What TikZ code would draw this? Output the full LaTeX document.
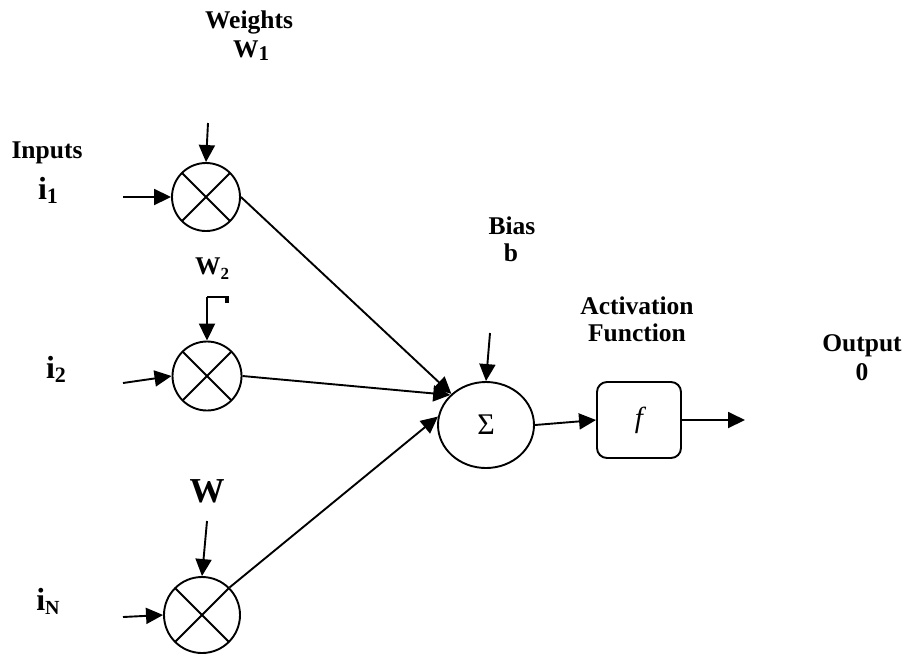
\documentclass[tikz,border=0pt]{standalone}
\usepackage{fontspec}
\setmainfont{Liberation Serif}
\usetikzlibrary{arrows.meta,shapes.geometric}
\begin{document}
\begin{tikzpicture}[x=1pt,y=-1pt,
  wire/.style={line width=1.9pt},
  arr/.style={wire,-{Triangle[length=17pt,width=16pt]}},
  mult/.style={circle,draw,line width=1.9pt,inner sep=0pt,minimum size=#1,
    path picture={\draw[line width=1.9pt]
      (path picture bounding box.north west)--(path picture bounding box.south east)
      (path picture bounding box.north east)--(path picture bounding box.south west);}},
  lbl/.style={font=\fontsize{25.5}{28}\selectfont\bfseries,inner sep=0pt},
  big/.style={font=\fontsize{32}{32}\selectfont\bfseries,inner sep=0pt},
]
\useasboundingbox (0,0) rectangle (904,657);

% multipliers, summing junction and activation block
\node[mult=68] (m1) at (206,197) {};
\node[mult=69] (m2) at (207,376) {};
\node[mult=76] (m3) at (202,615) {};
\node[ellipse,draw,line width=1.9pt,minimum width=96pt,minimum height=86pt,inner sep=0pt]
  (sum) at (486,425) {\fontsize{30}{30}\selectfont Σ};
\node[draw,rounded corners=10pt,line width=1.9pt,minimum width=84pt,minimum height=76pt]
  (act) at (639,420) {\fontsize{29}{29}\selectfont\itshape f};

% labels
\node[lbl] (wts) at (249,22) {Weights};
\node[lbl] (w1) at (251,51) {W\raisebox{-3pt}{\fontsize{21}{21}\selectfont 1}};
\node[lbl] (inp) at (47,153) {Inputs};
\node[big] (i1) at (48,190) {i\raisebox{-4pt}{\fontsize{22}{22}\selectfont 1}};
\node[lbl] (w2) at (212,269) {W\raisebox{-5pt}{\fontsize{17}{17}\selectfont 2}};
\node[big] (i2) at (56,369) {i\raisebox{-4pt}{\fontsize{22}{22}\selectfont 2}};
\node[font=\fontsize{35}{35}\selectfont\bfseries,inner sep=0pt] (w3) at (207,491) {W};
\node[big] (iN) at (48,601) {i\raisebox{-4pt}{\fontsize{20}{20}\selectfont N}};
\node[lbl] (bias) at (512,226) {Bias};
\node[lbl] (bsym) at (511,253) {b};
\node[lbl] (actl) at (637,306) {Activation};
\node[lbl] (fun) at (637,333) {Function};
\node[lbl] (outl) at (862,346) {Output};
\node[lbl] (zero) at (862,372) {0};

% free ends of the input, weight, bias and output arrows
\coordinate (w1in) at (208,123);
\coordinate (i1in) at (123,197);
\coordinate (w2in) at (207,297);
\coordinate (i2in) at (123,383);
\coordinate (w3in) at (207,521);
\coordinate (i3in) at (123,617);
\coordinate (bin) at (490,333);
\coordinate (out) at (745,420);

\draw[arr] (w1in) -- (m1.north);
\draw[arr] (i1in) -- (m1.west);
\draw[arr] (w2in) -- (m2.north);
\draw[wire] (w2in) -- ++(19,0);
\fill (225,296) rectangle (228.5,303);
\draw[arr] (i2in) -- (m2.west);
\draw[arr] (w3in) -- (m3.north);
\draw[arr] (i3in) -- (m3.west);

\draw[arr] (m1.east) -- (sum.north west);
\draw[arr] (m2.east) -- (sum.140);
\draw[arr] (m3.45) -- (sum.170);
\draw[arr] (bin) -- (sum.north);
\draw[arr] (sum.east) -- (act.west);
\draw[arr] (act.east) -- (out);
\end{tikzpicture}
\end{document}
